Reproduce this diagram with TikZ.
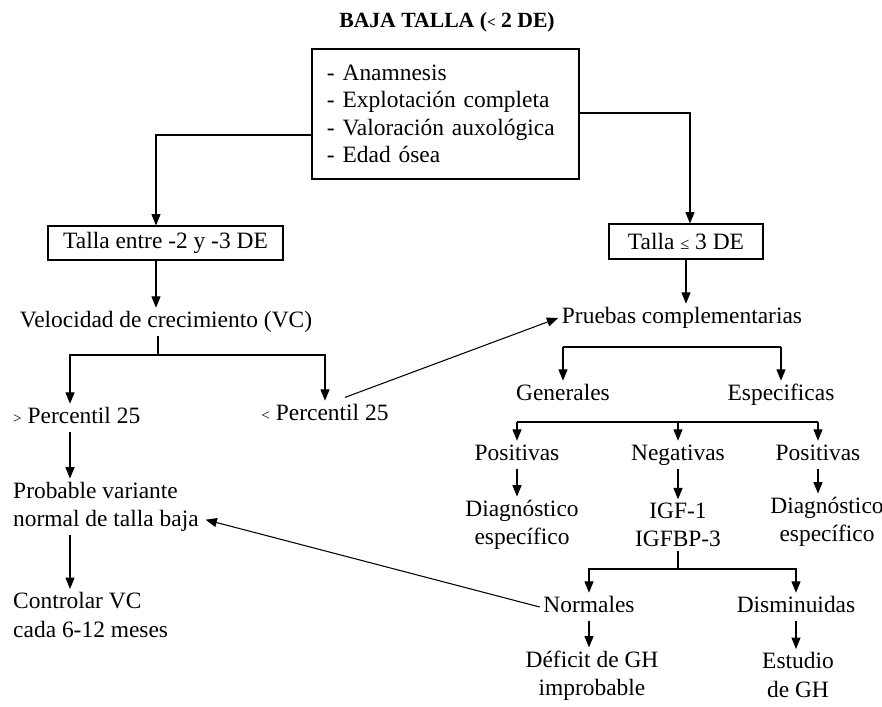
\documentclass[tikz,border=0pt]{standalone}
\usepackage{fontspec}
\setmainfont{Liberation Serif}
\usetikzlibrary{positioning, arrows.meta, calc}

\begin{document}
\begin{tikzpicture}[x=0.03cm, y=-0.03cm]
	\tikzset{
		txt/.style={inner sep=3pt, font=\fontsize{20}{24}\selectfont, align=center},
		one/.style={txt, text height=14pt, text depth=4pt},
		lefttxt/.style={txt, align=left, anchor=west, inner xsep=0pt},
		box/.style={draw, line width=0.9pt, txt, inner sep=0pt},
		arr/.style={-{Triangle[length=3.4mm, width=2.7mm]}, line width=0.9pt},
		ln/.style={line width=0.9pt},
	}
	\useasboundingbox (0,0) rectangle (882,707);
	
	% Title
	\node[font=\bfseries\fontsize{18.5}{22}\selectfont] (title) at (447,22) {BAJA TALLA ({\fontsize{13}{13}\selectfont<} 2 DE)};
	
	% Initial evaluation
	\node[box, align=left, text width=7.11cm, inner xsep=0.45cm, minimum height=3.9cm, font=\fontsize{20}{23.5}\selectfont] (eval) at (445.5,114) {- Anamnesis\\- Explotación completa\\- Valoración auxológica\\- Edad ósea};
	
	% Two height groups
	\node[box, minimum width=7.05cm, minimum height=1.02cm] (tallaA) at (165.5,243) {Talla entre -2 y -3 DE};
	\node[box, minimum width=4.62cm, minimum height=1.05cm] (tallaB) at (686,241.5) {Talla {\fontsize{14}{14}\selectfont ≤} 3 DE};
	\coordinate (cL) at (156,135);
	\coordinate (cR) at (690,113);
	\draw[arr] (eval.west |- cL) -- (cL) -- (cL |- tallaA.north);
	\draw[arr] (eval.east |- cR) -- (cR) -- (cR |- tallaB.north);
	
	% Left branch: growth velocity
	\node[one] (vc) at (166,322) {Velocidad de crecimiento (VC)};
	\draw[arr] (tallaA.south -| cL) -- (cL |- vc.north);
	\coordinate (vcB) at (158,355);
	\coordinate (colA) at (70,0);
	\node[one, anchor=west, inner xsep=0pt] (gt25) at (13,418) {{\fontsize{13}{13}\selectfont>} Percentil 25};
	\node[one] (lt25) at (325,415) {{\fontsize{13}{13}\selectfont<} Percentil 25};
	\draw[ln] (vc.south -| vcB) -- (vcB);
	\draw[arr] (vcB) -| (colA |- gt25.north);
	\draw[arr] (vcB) -| (lt25.north);
	
	\node[lefttxt] (probable) at (13,507) {Probable variante\\normal de talla baja};
	\node[lefttxt] (control) at (13,615) {Controlar VC\\cada 6-12 meses};
	\draw[arr] (colA |- gt25.south) -- (colA |- probable.north);
	\draw[arr] (colA |- probable.south) -- (colA |- control.north);
	
	% Right branch: complementary tests
	\node[one] (pruebas) at (682,318) {Pruebas complementarias};
	\draw[arr] (tallaB.south) -- (tallaB.south |- pruebas.north);
	\draw[arr] ([xshift=0.6cm, yshift=0.1cm]lt25.north) -- (pruebas.west);
	
	\node[one] (gen) at (563,395) {Generales};
	\node[one] (esp) at (781,395) {Especificas};
	\coordinate (pb) at (0,347);
	\draw[ln] (gen.north |- pb) -- (esp.north |- pb);
	\draw[arr] (gen.north |- pb) -- (gen.north);
	\draw[arr] (esp.north |- pb) -- (esp.north);
	
	\node[one] (pos1) at (517,455) {Positivas};
	\node[one] (neg) at (678,455) {Negativas};
	\node[one] (pos2) at (818,455) {Positivas};
	\coordinate (rb) at (0,422);
	\draw[ln] (pos1.north |- rb) -- (pos2.north |- rb);
	\foreach \n in {pos1, neg, pos2}
		\draw[arr] (\n.north |- rb) -- (\n.north);
	
	\node[txt] (diag1) at (522,525) {Diagnóstico\\específico};
	\node[txt] (igf) at (678,525) {IGF-1\\IGFBP-3};
	\node[txt] (diag2) at (827,522) {Diagnóstico\\específico};
	\draw[arr] (pos1.south) -- (pos1.south |- diag1.north);
	\draw[arr] (neg.south) -- (neg.south |- igf.north);
	\draw[arr] (pos2.south) -- (pos2.south |- diag2.north);
	
	% IGF results
	\node[one] (norm) at (589,607) {Normales};
	\node[one] (dism) at (796,607) {Disminuidas};
	\coordinate (ib) at (678,569);
	\draw[ln] (igf.south) -- (igf.south |- ib);
	\draw[arr] (ib) -| (norm.north);
	\draw[arr] (ib) -| (dism.north);
	
	\node[txt] (deficit) at (592,676) {Déficit de GH\\improbable};
	\node[txt] (estudio) at (798,675) {Estudio\\de GH};
	\draw[arr] (norm.south) -- (norm.south |- deficit.north);
	\draw[arr] (dism.south) -- (dism.south |- estudio.north);
	
	% Back to normal variant
	\draw[arr] (norm.west) -- ([xshift=0.2cm, yshift=-0.38cm]probable.east);
\end{tikzpicture}
\end{document}
